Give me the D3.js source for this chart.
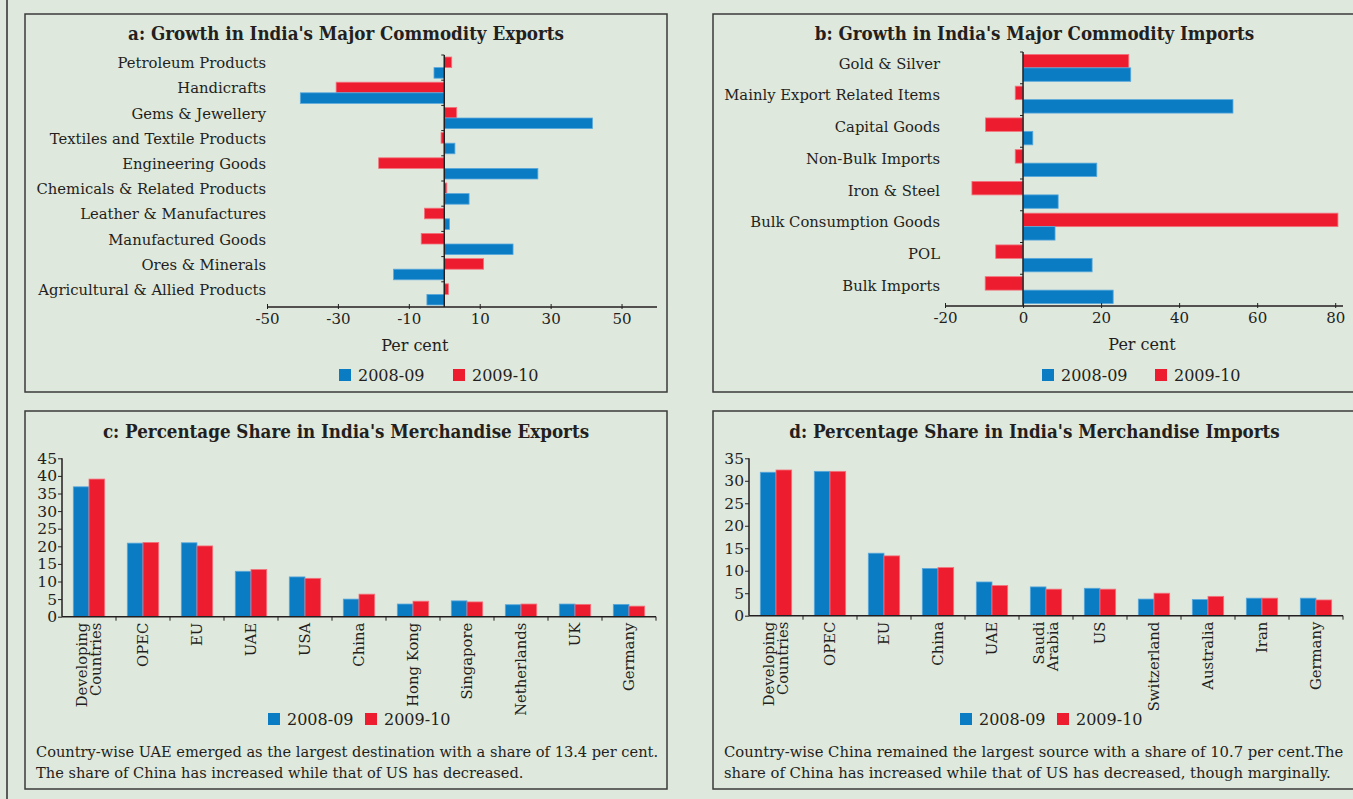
<!DOCTYPE html>
<html>
<head>
<meta charset="utf-8">
<script src="https://cdn.jsdelivr.net/npm/d3@7"></script>
<style>
  html, body { margin: 0; padding: 0; background: #dfe8dc; }
  svg { display: block; }
  text { font-family: "DejaVu Serif", serif; fill: #231f20; }
  .title { font-family: "DejaVu Serif Condensed", "DejaVu Serif", serif; font-stretch: condensed; font-weight: bold; font-size: 18.6px; }
</style>
</head>
<body>
<svg id="chart" width="1353" height="799"></svg>
<script>
// ---- data -------------------------------------------------------------
const seriesNames = ["2008-09", "2009-10"];

const exportCommodities = ["Petroleum Products", "Handicrafts", "Gems & Jewellery",
  "Textiles and Textile Products", "Engineering Goods", "Chemicals & Related Products",
  "Leather & Manufactures", "Manufactured Goods", "Ores & Minerals",
  "Agricultural & Allied Products"];
const exportGrowth0809 = [-2.9, -40.6, 41.8, 3.0, 26.4, 7.0, 1.5, 19.4, -14.3, -4.9];
const exportGrowth0910 = [2.1, -30.5, 3.5, -0.9, -18.5, 0.7, -5.6, -6.5, 11.1, 1.2];
const exportGrowthTicks = [-50, -30, -10, 10, 30, 50];

const importCommodities = ["Gold & Silver", "Mainly Export Related Items", "Capital Goods",
  "Non-Bulk Imports", "Iron & Steel", "Bulk Consumption Goods", "POL", "Bulk Imports"];
const importGrowth0809 = [27.6, 53.8, 2.5, 18.9, 9.0, 8.2, 17.7, 23.1];
const importGrowth0910 = [27.1, -2.0, -9.6, -2.0, -13.1, 80.7, -7.0, -9.7];
const importGrowthTicks = [-20, 0, 20, 40, 60, 80];

const exportPartners = [["Developing", "Countries"], ["OPEC"], ["EU"], ["UAE"], ["USA"],
  ["China"], ["Hong Kong"], ["Singapore"], ["Netherlands"], ["UK"], ["Germany"]];
const exportShare0809 = [36.9, 20.9, 21.0, 12.9, 11.3, 5.0, 3.6, 4.5, 3.4, 3.6, 3.5];
const exportShare0910 = [39.1, 21.1, 20.1, 13.4, 10.9, 6.4, 4.4, 4.2, 3.6, 3.5, 3.0];
const exportShareTicks = [0, 5, 10, 15, 20, 25, 30, 35, 40, 45];

const importPartners = [["Developing", "Countries"], ["OPEC"], ["EU"], ["China"], ["UAE"],
  ["Saudi", "Arabia"], ["US"], ["Switzerland"], ["Australia"], ["Iran"], ["Germany"]];
const importShare0809 = [31.9, 32.1, 13.9, 10.5, 7.5, 6.4, 6.1, 3.7, 3.6, 3.9, 3.9];
const importShare0910 = [32.4, 32.1, 13.3, 10.7, 6.7, 5.9, 5.9, 5.0, 4.3, 3.9, 3.5];
const importShareTicks = [0, 5, 10, 15, 20, 25, 30, 35];

const noteExports = ["Country-wise UAE emerged as the largest destination with a share of 13.4 per cent.",
  "The share of China has increased while that of US has decreased."];
const noteImports = ["Country-wise China remained the largest source with a share of 10.7 per cent.The",
  "share of China has increased while that of US has decreased, though marginally."];

// ---- styling ----------------------------------------------------------
const colour = { "2008-09": "#0a7cc4", "2009-10": "#ee1c2f" };
const edge = { "2008-09": "#5aa9dc", "2009-10": "#f3737e" };
const ink = "#231f20";
const labelSize = "14.8px";

const svg = d3.select("#chart");

// page frame line on the left
svg.append("line").attr("x1", 7).attr("x2", 7).attr("y1", 0).attr("y2", 799)
  .attr("stroke", "#5a5a5a").attr("stroke-width", 2);

function panelBox(x0, y0, x1, y1, title, titleY) {
  svg.append("rect").attr("x", x0).attr("y", y0).attr("width", x1 - x0).attr("height", y1 - y0)
    .attr("fill", "none").attr("stroke", "#3a3a3a").attr("stroke-width", 1.5);
  svg.append("text").attr("class", "title").attr("x", (x0 + x1) / 2).attr("y", titleY)
    .attr("text-anchor", "middle").text(title);
}

function legend(items) {
  items.forEach(it => {
    svg.append("rect").attr("x", it.x).attr("y", it.y - 6).attr("width", 12).attr("height", 12)
      .attr("fill", colour[it.name]);
    svg.append("text").attr("x", it.x + 19).attr("y", it.y).attr("dy", "0.36em")
      .style("font-size", "16px").text(it.name);
  });
}

// horizontal grouped bars (growth panels)
function growthPanel(opt) {
  const x = d3.scaleLinear().domain(opt.domain).range([opt.left, opt.right]);
  const y = d3.scaleBand().domain(opt.categories).range([opt.top, opt.bottom]);
  const inner = d3.scaleBand().domain(["2009-10", "2008-09"]).range([0, y.bandwidth()])
    .paddingInner(0).paddingOuter(opt.pad);
  const g = svg.append("g");

  const rows = opt.categories.map((c, i) => ({ c, v: { "2008-09": opt.s0809[i], "2009-10": opt.s0910[i] } }));
  rows.forEach(r => {
    ["2009-10", "2008-09"].forEach(s => {
      const v = r.v[s];
      g.append("rect")
        .attr("x", x(Math.min(0, v))).attr("y", y(r.c) + inner(s))
        .attr("width", Math.abs(x(v) - x(0))).attr("height", inner.bandwidth())
        .attr("fill", colour[s]).attr("stroke", edge[s]).attr("stroke-width", 0.8);
    });
  });

  // category labels at the left edge
  opt.categories.forEach(c => {
    g.append("text").attr("x", opt.labelX).attr("y", y(c) + y.bandwidth() / 2 - 4.5)
      .attr("dy", "0.35em").attr("text-anchor", "end").style("font-size", labelSize).text(c);
  });

  // value axis
  const xa = g.append("g").attr("transform", `translate(0,${opt.bottom})`)
    .call(d3.axisBottom(x).tickValues(opt.ticks).tickFormat(d => String(d)).tickSize(4).tickPadding(2));
  xa.select(".domain").attr("stroke", ink).attr("stroke-width", 1.5).attr("d", `M${opt.left},0H${opt.right}`);
  xa.selectAll(".tick line").attr("stroke", ink).attr("y1", -3).attr("y2", 2);
  xa.selectAll(".tick text").style("font-size", "15px").style("font-family", "DejaVu Serif").attr("fill", ink);

  // zero line with category boundary ticks
  const zero = x(0);
  g.append("line").attr("x1", zero).attr("x2", zero).attr("y1", opt.top).attr("y2", opt.bottom)
    .attr("stroke", ink).attr("stroke-width", 1.5);
  opt.categories.forEach(c => {
    g.append("line").attr("x1", zero - 3).attr("x2", zero).attr("y1", y(c)).attr("y2", y(c))
      .attr("stroke", ink).attr("stroke-width", 1);
  });

  g.append("text").attr("x", x(opt.axisLabelAt)).attr("y", opt.bottom + 38).attr("dy", "0.35em")
    .attr("text-anchor", "middle").style("font-size", "16px").text("Per cent");
}

// vertical grouped bars (share panels)
function sharePanel(opt) {
  const names = opt.categories.map(c => c.join(" "));
  const x = d3.scaleBand().domain(names).range([opt.left, opt.right]);
  const inner = d3.scaleBand().domain(seriesNames).range([0, x.bandwidth()])
    .paddingInner(0).paddingOuter(0.72);
  const y = d3.scaleLinear().domain([0, opt.max]).range([opt.bottom, opt.top]);
  const g = svg.append("g");

  names.forEach((n, i) => {
    const vals = { "2008-09": opt.s0809[i], "2009-10": opt.s0910[i] };
    seriesNames.forEach(s => {
      g.append("rect").attr("x", x(n) + inner(s)).attr("y", y(vals[s]))
        .attr("width", inner.bandwidth()).attr("height", y(0) - y(vals[s]))
        .attr("fill", colour[s]).attr("stroke", edge[s]).attr("stroke-width", 0.8);
    });
  });

  const ya = g.append("g").attr("transform", `translate(${opt.left},0)`)
    .call(d3.axisLeft(y).tickValues(opt.ticks).tickSize(4).tickPadding(1));
  ya.select(".domain").attr("stroke", ink).attr("stroke-width", 1.5).attr("d", `M0,${opt.bottom}V${opt.top}`);
  ya.selectAll(".tick line").attr("stroke", ink);
  ya.selectAll(".tick text").style("font-size", "15.5px").style("font-family", "DejaVu Serif").attr("fill", ink);

  // baseline with band boundary ticks
  g.append("line").attr("x1", opt.left).attr("x2", opt.right).attr("y1", opt.bottom).attr("y2", opt.bottom)
    .attr("stroke", ink).attr("stroke-width", 1.5);
  names.forEach((n, i) => {
    if (i === 0) return;
    g.append("line").attr("x1", x(n)).attr("x2", x(n)).attr("y1", opt.bottom).attr("y2", opt.bottom + 4)
      .attr("stroke", ink);
  });
  g.append("line").attr("x1", opt.right).attr("x2", opt.right).attr("y1", opt.bottom).attr("y2", opt.bottom + 4)
    .attr("stroke", ink);

  // rotated category labels
  opt.categories.forEach((lines, i) => {
    const cx = x(names[i]) + x.bandwidth() / 2;
    const t = g.append("text").attr("transform", `translate(${cx},${opt.bottom + 6}) rotate(-90)`)
      .attr("text-anchor", "end").style("font-size", labelSize);
    const lh = 14;
    lines.forEach((ln, j) => {
      t.append("tspan").attr("x", 0).attr("y", (j - (lines.length - 1) / 2) * lh).attr("dy", "0.35em").text(ln);
    });
  });

  opt.note.forEach((ln, j) => {
    g.append("text").attr("x", opt.noteX).attr("y", opt.noteY + j * 21).attr("dy", "0.35em")
      .style("font-size", opt.noteSize).text(ln);
  });
}

// ---- panel a ----------------------------------------------------------
panelBox(25, 14, 667, 392, "a: Growth in India's Major Commodity Exports", 39.5);
growthPanel({
  categories: exportCommodities, s0809: exportGrowth0809, s0910: exportGrowth0910,
  domain: [-50, 60], left: 267, right: 657, top: 55, bottom: 307, pad: 0.19,
  ticks: exportGrowthTicks, labelX: 266, axisLabelAt: -8.3
});
legend([{ name: "2008-09", x: 339, y: 375 }, { name: "2009-10", x: 453, y: 375 }]);

// ---- panel b ----------------------------------------------------------
panelBox(713, 14, 1356, 392, "b: Growth in India's Major Commodity Imports", 39.5);
growthPanel({
  categories: importCommodities, s0809: importGrowth0809, s0910: importGrowth0910,
  domain: [-20, 82], left: 945, right: 1343, top: 52, bottom: 306, pad: 0.18,
  ticks: importGrowthTicks, labelX: 940, axisLabelAt: 30.5
});
legend([{ name: "2008-09", x: 1042, y: 375 }, { name: "2009-10", x: 1155, y: 375 }]);

// ---- panel c ----------------------------------------------------------
panelBox(25, 411, 667, 789, "c: Percentage Share in India's Merchandise Exports", 437.5);
sharePanel({
  categories: exportPartners, s0809: exportShare0809, s0910: exportShare0910,
  max: 45, left: 62, right: 656, top: 458.3, bottom: 616.7, ticks: exportShareTicks,
  note: noteExports, noteX: 36, noteY: 752, noteSize: "14.6px"
});
legend([{ name: "2008-09", x: 268, y: 719 }, { name: "2009-10", x: 365, y: 719 }]);

// ---- panel d ----------------------------------------------------------
panelBox(713, 411, 1356, 789, "d: Percentage Share in India's Merchandise Imports", 437.5);
sharePanel({
  categories: importPartners, s0809: importShare0809, s0910: importShare0910,
  max: 35, left: 749, right: 1343, top: 458.3, bottom: 615.7, ticks: importShareTicks,
  note: noteImports, noteX: 724, noteY: 752, noteSize: "14.8px"
});
legend([{ name: "2008-09", x: 960, y: 719 }, { name: "2009-10", x: 1057, y: 719 }]);
</script>
</body>
</html>
